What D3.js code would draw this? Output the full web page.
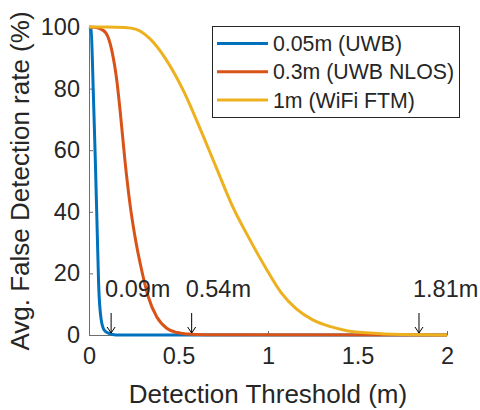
<!DOCTYPE html>
<html lang="en">
<head>
  <meta charset="UTF-8">
  <title>False Detection Rate</title>
  <style>
    body { margin: 0; background: #fff; }
    text { font-family: "Liberation Sans", Arial, sans-serif; fill: #262626; }
  </style>
</head>
<body>
  <svg id="svg" width="480" height="410"></svg>

  <script src="https://d3js.org/d3.v7.min.js"></script>
  <script>
    // curve values (x = threshold in m, y = %)
    const uwbX = [0, 0.011, 0.024, 0.035, 0.045, 0.054, 0.067, 0.085, 0.113, 0.15, 2]
    const uwbY = [100, 99.6, 79, 57.4, 35.7, 16.2, 5.4, 1.6, 0.5, 0, 0]

    const nlosX = [0, 0.03, 0.06, 0.095, 0.127, 0.155, 0.177, 0.201, 0.229, 0.257, 0.294, 0.331, 0.378, 0.434, 0.49, 0.55, 0.65, 2]
    const nlosY = [100, 99.9, 99.5, 98, 92.5, 82.8, 71, 56.5, 42.5, 31.9, 21.1, 12.4, 5.9, 2.2, 0.8, 0.3, 0.05, 0]

    const ftmX = [0, 0.1, 0.2, 0.26, 0.34, 0.43, 0.53, 0.62, 0.71, 0.8, 0.9, 0.99, 1.07, 1.16, 1.25, 1.35, 1.44, 1.55, 1.65, 1.75, 1.85, 2]
    const ftmY = [100, 100, 99.8, 99.3, 96.2, 89.5, 79, 67.1, 54.5, 42, 30.8, 21.5, 14, 8.4, 4.9, 2.7, 1.4, 0.7, 0.35, 0.15, 0.05, 0]

    const seriesNames = ['0.05m (UWB)', '0.3m (UWB NLOS)', '1m (WiFi FTM)']
    const seriesColors = ['#0072BD', '#D95319', '#EDB120']

    const markX = [0.09, 0.54, 1.81]
    const markLabels = ['0.09m', '0.54m', '1.81m']

    const xTicks = [0, 0.5, 1, 1.5, 2]
    const yTicks = [0, 20, 40, 60, 80, 100]

    const margin = { top: 27, right: 33, bottom: 75, left: 89 }
    const width = 480 - margin.left - margin.right
    const height = 410 - margin.top - margin.bottom

    const xscale = d3.scaleLinear().domain([0, 2]).range([margin.left, margin.left + width])
    const yscale = d3.scaleLinear().domain([0, 100]).range([margin.top + height, margin.top])

    const svg = d3.select('#svg')

    // axes (MATLAB style, ticks pointing in, no box)
    const bottomAxis = d3.axisBottom(xscale).tickValues(xTicks).tickFormat(d3.format('')).tickSizeInner(-4).tickSizeOuter(0).tickPadding(9)
    const leftAxis = d3.axisLeft(yscale).tickValues(yTicks).tickSizeInner(-4).tickSizeOuter(0).tickPadding(9)

    const gx = svg.append('g')
      .attr('transform', `translate(0, ${margin.top + height})`)
      .call(bottomAxis)
    const gy = svg.append('g')
      .attr('transform', `translate(${margin.left}, 0)`)
      .call(leftAxis)

    for (const g of [gx, gy]) {
      g.select('.domain').attr('stroke', '#6e6e6e').attr('stroke-width', 1)
      g.selectAll('.tick line').attr('stroke', '#6e6e6e')
      g.selectAll('.tick text')
        .attr('fill', '#262626')
        .style('font-family', '"Liberation Sans", Arial, sans-serif')
        .style('font-size', '23.5px')
    }
    gx.selectAll('.tick text').attr('dy', '0.85em')

    // curves
    const line = d3.line()
      .x(d => xscale(d[0]))
      .y(d => yscale(d[1]))
      .curve(d3.curveMonotoneX)

    const series = [
      d3.zip(uwbX, uwbY),
      d3.zip(nlosX, nlosY),
      d3.zip(ftmX, ftmY)
    ]

    svg.append('g')
      .selectAll('path')
      .data(series)
      .enter()
      .append('path')
      .attr('d', line)
      .attr('fill', 'none')
      .attr('stroke', (d, i) => seriesColors[i])
      .attr('stroke-width', 3)
      .attr('stroke-linejoin', 'round')

    // threshold annotations: text + down arrow
    const marks = svg.append('g')
    markX.forEach((m, i) => {
      const px = xscale(m)
      marks.append('text')
        .attr('x', px)
        .attr('y', 297)
        .style('font-size', '23.5px')
        .attr('fill', '#000')
        .text(markLabels[i])
      const ax = px + 6
      marks.append('path')
        .attr('d', `M${ax},313 L${ax},333 M${ax - 4},327 L${ax},333 L${ax + 4},327`)
        .attr('fill', 'none')
        .attr('stroke', '#000')
        .attr('stroke-width', 1)
    })

    // legend
    const legend = svg.append('g')
    legend.append('rect')
      .attr('x', 212.5).attr('y', 26.5)
      .attr('width', 247).attr('height', 91)
      .attr('fill', '#fff')
      .attr('stroke', '#262626')
      .attr('stroke-width', 1)
    seriesNames.forEach((name, i) => {
      const y = 43.5 + i * 28.3
      legend.append('line')
        .attr('x1', 217).attr('x2', 268)
        .attr('y1', y).attr('y2', y)
        .attr('stroke', seriesColors[i])
        .attr('stroke-width', 3)
      legend.append('text')
        .attr('x', 273).attr('y', y)
        .attr('dy', '0.36em')
        .style('font-size', '21.3px')
        .attr('fill', '#000')
        .text(name)
    })

    // axis labels
    svg.append('text')
      .attr('x', margin.left + width / 2)
      .attr('y', 403)
      .attr('text-anchor', 'middle')
      .style('font-size', '26px')
      .text('Detection Threshold (m)')

    svg.append('text')
      .attr('transform', `translate(29, ${margin.top + height / 2}) rotate(-90)`)
      .attr('text-anchor', 'middle')
      .style('font-size', '26px')
      .text('Avg. False Detection rate (%)')
  </script>
</body>
</html>
